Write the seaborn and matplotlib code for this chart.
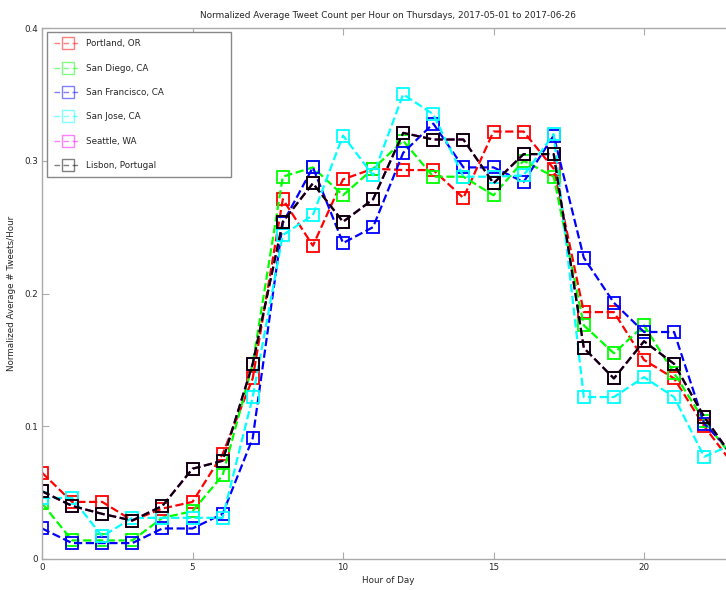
import matplotlib
matplotlib.use("Agg")
import matplotlib.pyplot as plt
import seaborn as sns
import numpy as np
from matplotlib.lines import Line2D

hours = list(range(24))
portland = [0.065, 0.043, 0.043, 0.029, 0.038, 0.043, 0.079, 0.136, 0.271, 0.236, 0.286, 0.294,
            0.293, 0.293, 0.272, 0.322, 0.322, 0.294, 0.186, 0.186, 0.150, 0.136, 0.100, 0.070]
san_diego = [0.042, 0.014, 0.014, 0.014, 0.031, 0.036, 0.063, 0.147, 0.288, 0.295, 0.274, 0.294,
             0.315, 0.288, 0.288, 0.274, 0.300, 0.288, 0.176, 0.155, 0.176, 0.140, 0.104, 0.075]
san_francisco = [0.023, 0.012, 0.012, 0.012, 0.023, 0.023, 0.034, 0.091, 0.253, 0.295, 0.238, 0.250,
                 0.306, 0.328, 0.295, 0.295, 0.284, 0.319, 0.227, 0.193, 0.171, 0.171, 0.102, 0.078]
san_jose = [0.046, 0.046, 0.017, 0.031, 0.031, 0.031, 0.031, 0.122, 0.244, 0.259, 0.319, 0.289,
            0.350, 0.335, 0.288, 0.288, 0.289, 0.320, 0.122, 0.122, 0.137, 0.122, 0.077, 0.087]
seattle = [0.051, 0.040, 0.034, 0.029, 0.040, 0.068, 0.074, 0.147, 0.254, 0.283, 0.254, 0.271,
           0.321, 0.316, 0.316, 0.283, 0.305, 0.305, 0.159, 0.136, 0.164, 0.147, 0.107, 0.075]
lisbon = [0.051, 0.040, 0.034, 0.029, 0.040, 0.068, 0.074, 0.147, 0.254, 0.283, 0.254, 0.271,
          0.321, 0.316, 0.316, 0.283, 0.305, 0.305, 0.159, 0.136, 0.164, 0.147, 0.107, 0.075]

labels = ["Portland, OR", "San Diego, CA", "San Francisco, CA", "San Jose, CA", "Seattle, WA", "Lisbon, Portugal"]
series = [portland, san_diego, san_francisco, san_jose, seattle, lisbon]
colors = ["#ff0000", "#00ff00", "#0000ff", "#00ffff", "#ff00ff", "#000000"]

sns.set_style("white")
plt.rcParams['font.family'] = ['DejaVu Sans']

fig = plt.figure(figsize=(7.26, 5.90), dpi=100)
ax = fig.add_axes([42/726, 31/590, 23*30.1/726, 531/590])

for vals, col, lab in zip(series, colors, labels):
    sns.lineplot(x=hours, y=vals, ax=ax, color=col, linestyle="--", dashes=(4.5, 2.8), linewidth=1.6,
                 marker="s", markersize=8.5, markerfacecolor="none", markeredgecolor=col,
                 markeredgewidth=1.3, legend=False)

ax.set_xlim(0, 23)
ax.set_ylim(0, 0.4)
ax.set_xticks([0, 5, 10, 15, 20])
ax.set_yticks([0, 0.1, 0.2, 0.3, 0.4])
ax.set_yticklabels(["0", "0.1", "0.2", "0.3", "0.4"])
ax.tick_params(direction="in", length=5, color="#aaaaaa", labelsize=6.3, top=True, right=True,
               bottom=True, left=True, pad=3)
for sp in ax.spines.values():
    sp.set_color("#aaaaaa")
    sp.set_linewidth(1)

ax.set_title("Normalized Average Tweet Count per Hour on Thursdays, 2017-05-01 to 2017-06-26",
             fontsize=6.4, pad=7)
ax.set_xlabel("Hour of Day", fontsize=6.3, labelpad=3)
ax.set_ylabel("Normalized Average # Tweets/Hour", fontsize=6.3, labelpad=6)

handles = [Line2D([0], [0], color=c, linestyle="--", dashes=(4, 2.5), linewidth=1, marker="s",
                  markersize=8, markerfacecolor="none", markeredgecolor=c, markeredgewidth=1,
                  alpha=0.5) for c in colors]
h = 0.3
leg = ax.legend(handles, labels, loc="upper left", fontsize=6.3, frameon=True, fancybox=False,
                edgecolor="#888888", framealpha=1, borderpad=0.85, labelspacing=1.75,
                handlelength=3.0, handletextpad=0.6, borderaxespad=0,
                bbox_to_anchor=(5/695.3, (559-32)/531 - h, 185/695.3, h), mode="expand")
leg.get_frame().set_linewidth(1)

fig.savefig("out.png", dpi=100)
